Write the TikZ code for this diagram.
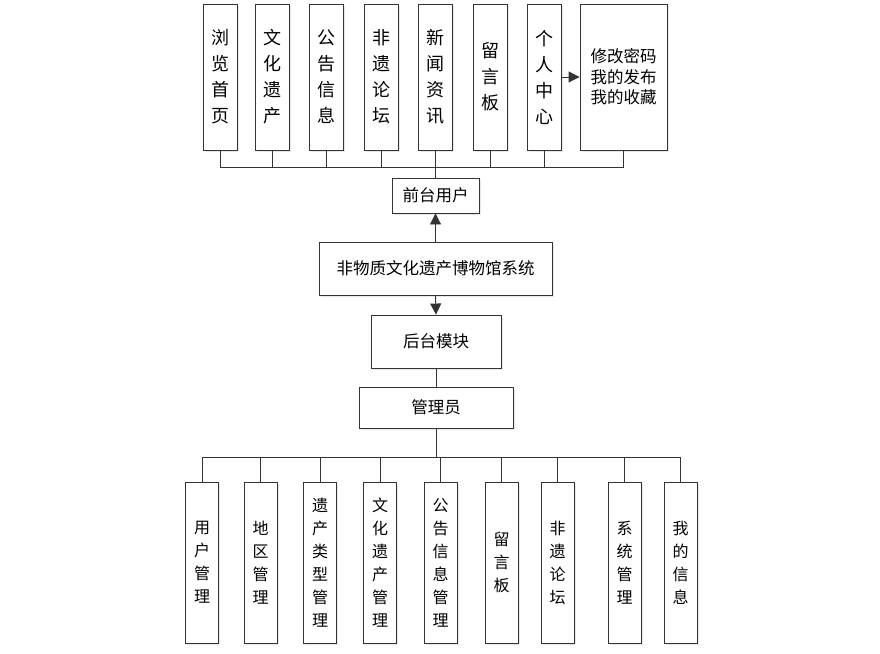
\documentclass[tikz,border=0pt]{standalone}
\usepackage{fontspec}
\newfontfamily\cjk{Noto Sans CJK SC}
\usetikzlibrary{arrows.meta,shadows}
\begin{document}
\begin{tikzpicture}[x=1pt,y=-1pt,
  box/.style={draw=black!80, line width=0.9pt, fill=white, inner sep=0pt, align=center,
    drop shadow={shadow xshift=1.5pt, shadow yshift=-1.5pt, opacity=0.18}},
  topbox/.style={box, minimum width=34pt, minimum height=146pt, font=\cjk\fontsize{18}{26}\selectfont},
  botbox/.style={box, minimum width=33pt, minimum height=161pt, font=\cjk\fontsize{16}{23}\selectfont},
  midbox/.style={box, font=\cjk\fontsize{16.5}{20}\selectfont},
  conn/.style={draw=black!80, line width=0.9pt},
  arr/.style={conn, -{Triangle[length=11pt,width=11pt]}}]
\useasboundingbox (0,0) rectangle (880,653);
% top boxes
\node[topbox] (t1) at (220.5,77) {浏\\览\\首\\页};
\node[topbox] (t2) at (272,77) {文\\化\\遗\\产};
\node[topbox] (t3) at (326,77) {公\\告\\信\\息};
\node[topbox] (t4) at (381,77) {非\\遗\\论\\坛};
\node[topbox] (t5) at (435.5,77) {新\\闻\\资\\讯};
\node[topbox] (t6) at (490,77) {留\\言\\板};
\node[topbox] (t7) at (544,77) {个\\人\\中\\心};
\node[box, minimum width=87pt, minimum height=146pt, font=\cjk\fontsize{16.5}{20.5}\selectfont] (t8) at (623.5,77) {修改密码\\我的发布\\我的收藏};
% middle
\node[midbox, minimum width=87pt, minimum height=35pt] (front) at (435.5,195.5) {前台用户};
\node[midbox, minimum width=233pt, minimum height=53pt] (sys) at (435.5,268.5) {非物质文化遗产博物馆系统};
\node[midbox, minimum width=130pt, minimum height=53pt] (back) at (436,341.5) {后台模块};
\node[midbox, minimum width=154pt, minimum height=41pt] (admin) at (436,407.5) {管理员};
% bottom boxes
\node[botbox] (b1) at (202,562.5) {用\\户\\管\\理};
\node[botbox] (b2) at (260.5,562.5) {地\\区\\管\\理};
\node[botbox] (b3) at (320,562.5) {遗\\产\\类\\型\\管\\理};
\node[botbox] (b4) at (380,562.5) {文\\化\\遗\\产\\管\\理};
\node[botbox] (b5) at (440.5,562.5) {公\\告\\信\\息\\管\\理};
\node[botbox] (b6) at (501.5,562.5) {留\\言\\板};
\node[botbox] (b7) at (557.5,562.5) {非\\遗\\论\\坛};
\node[botbox] (b8) at (624.5,562.5) {系\\统\\管\\理};
\node[botbox] (b9) at (680.5,562.5) {我\\的\\信\\息};
% bus coordinates
\coordinate (tbus) at (435.5,167);
\coordinate (bbus) at (436,457);
% top connectors
\draw[conn] (t1.south) -- (t1.south |- tbus) -- (t8.south |- tbus) -- (t8.south);
\foreach \n in {t2,t3,t4,t5,t6,t7} \draw[conn] (\n.south) -- (\n.south |- tbus);
\draw[conn] (tbus) -- (front.north);
\draw[arr] (t7.east) -- (t8.west);
% middle connectors
\draw[arr] (sys.north) -- (front.south);
\draw[arr] (sys.south) -- (back.north);
\draw[conn] (back.south) -- (admin.north);
\draw[conn] (admin.south) -- (bbus);
% bottom connectors
\draw[conn] (b1.north) -- (b1.north |- bbus) -- (b9.north |- bbus) -- (b9.north);
\foreach \n in {b2,b3,b4,b5,b6,b7,b8} \draw[conn] (\n.north) -- (\n.north |- bbus);
\end{tikzpicture}
\end{document}
